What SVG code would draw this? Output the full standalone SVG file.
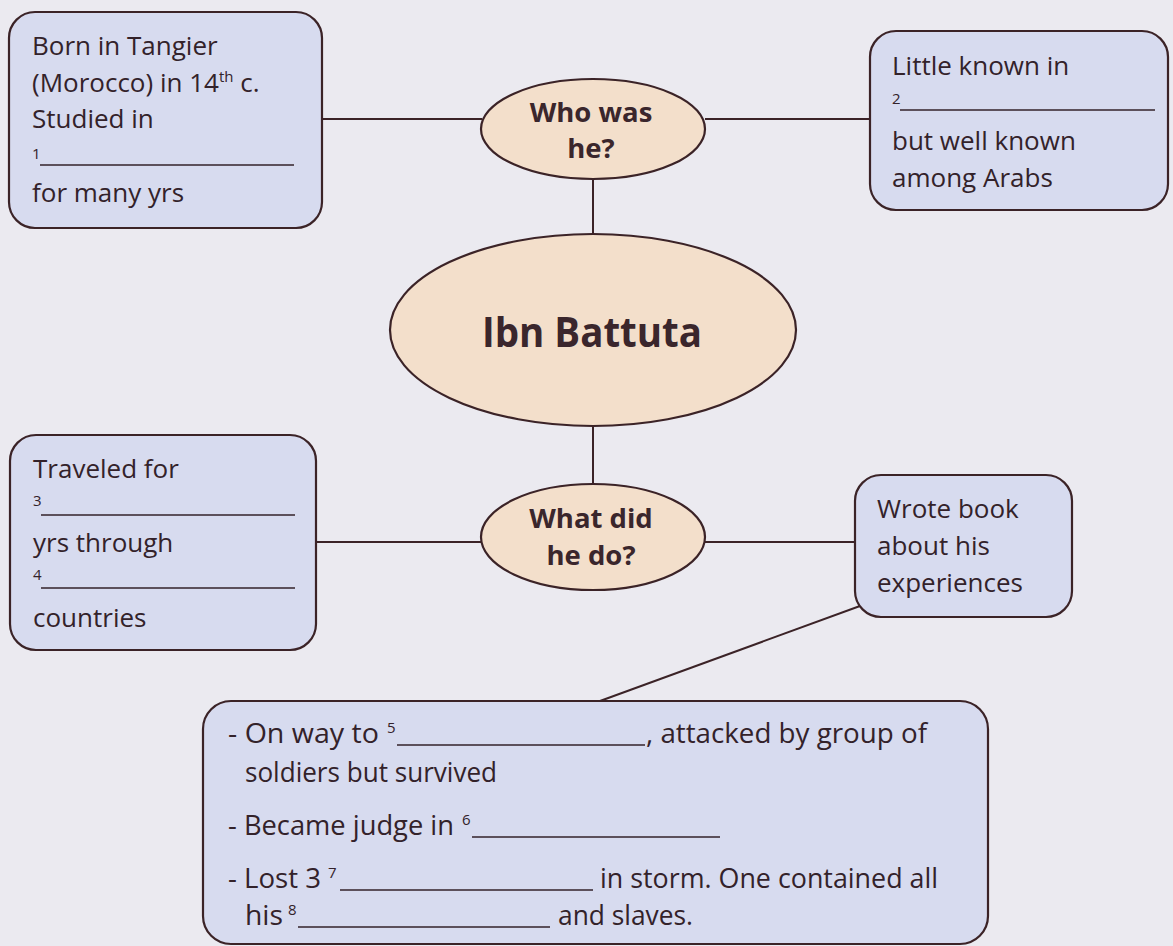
<svg xmlns="http://www.w3.org/2000/svg" width="1173" height="946" viewBox="0 0 1173 946">
<style>
.bg{fill:#ebeaf0}
.box{fill:#d7dbef;stroke:#3b2327;stroke-width:2.2}
.ell{fill:#f3dfcb;stroke:#3b2327;stroke-width:2.2}
.con line{stroke:#3b2327;stroke-width:2}
.t{font-family:"Open Sans","Liberation Sans",sans-serif;font-size:26px;fill:#33222a}
.b{font-family:"Open Sans","Liberation Sans",sans-serif;font-weight:bold;fill:#3a262c}
.s{font-family:"Open Sans","Liberation Sans",sans-serif;font-size:15px;fill:#33222a}
.bt{font-family:"Open Sans","Liberation Sans",sans-serif;font-size:27px;fill:#33222a}
.u{stroke:#33222a;stroke-width:1.7}
</style>
<rect class="bg" x="0" y="0" width="1173" height="946"/>
<g id="connectors" class="con">
<line x1="321" y1="119" x2="482" y2="119"/>
<line x1="705" y1="119" x2="870" y2="119"/>
<line x1="593" y1="180" x2="593" y2="234"/>
<line x1="593" y1="427" x2="593" y2="483"/>
<line x1="316" y1="542" x2="482" y2="542"/>
<line x1="705" y1="542" x2="855" y2="542"/>
<line x1="860" y1="606" x2="600" y2="701"/>
</g>
<g id="who">
<ellipse class="ell" cx="593" cy="129" rx="112" ry="50"/>
<text class="b" font-size="27.5" x="591" y="122" text-anchor="middle">Who was</text>
<text class="b" font-size="27.5" x="591" y="158" text-anchor="middle">he?</text>
</g>
<g id="center">
<ellipse class="ell" cx="593" cy="330" rx="203" ry="96"/>
<text class="b" font-size="42" x="482" y="347" textLength="220" lengthAdjust="spacingAndGlyphs">Ibn Battuta</text>
</g>
<g id="what">
<ellipse class="ell" cx="593" cy="537" rx="112" ry="53"/>
<text class="b" font-size="27.5" x="591" y="528" text-anchor="middle">What did</text>
<text class="b" font-size="27.5" x="591" y="565" text-anchor="middle">he do?</text>
</g>
<g id="born">
<rect class="box" x="9" y="12" width="313" height="216" rx="26"/>
<text class="t" x="32" y="55">Born in Tangier</text>
<text class="t" x="32" y="92">(Morocco) in 14<tspan dy="-10" font-size="15">th</tspan><tspan dy="10"> c.</tspan></text>
<text class="t" x="32" y="128">Studied in</text>
<text class="s" x="32" y="159">1</text>
<line class="u" x1="40" y1="165" x2="294" y2="165"/>
<text class="t" x="32" y="202">for many yrs</text>
</g>
<g id="little">
<rect class="box" x="870" y="31" width="298" height="179" rx="26"/>
<text class="t" x="892" y="75">Little known in</text>
<text class="s" x="892" y="104">2</text>
<line class="u" x1="900" y1="110" x2="1155" y2="110"/>
<text class="t" x="892" y="150">but well known</text>
<text class="t" x="892" y="187">among Arabs</text>
</g>
<g id="traveled">
<rect class="box" x="10" y="435" width="306" height="215" rx="26"/>
<text class="t" x="33" y="478">Traveled for</text>
<text class="s" x="33" y="506">3</text>
<line class="u" x1="41" y1="515" x2="295" y2="515"/>
<text class="t" x="33" y="552">yrs through</text>
<text class="s" x="33" y="580">4</text>
<line class="u" x1="41" y1="588" x2="295" y2="588"/>
<text class="t" x="33" y="627">countries</text>
</g>
<g id="wrote">
<rect class="box" x="855" y="475" width="217" height="142" rx="26"/>
<text class="t" x="877" y="518">Wrote book</text>
<text class="t" x="877" y="555">about his</text>
<text class="t" x="877" y="592">experiences</text>
</g>
<g id="events">
<rect class="box" x="203" y="701" width="785" height="243" rx="28"/>
<text class="bt" x="228" y="743" textLength="151" lengthAdjust="spacingAndGlyphs">- On way to</text>
<text class="s" x="387" y="733">5</text>
<line class="u" x1="397" y1="745" x2="645" y2="745"/>
<text class="bt" x="646" y="743" textLength="281" lengthAdjust="spacingAndGlyphs">, attacked by group of</text>
<text class="bt" x="245" y="782" textLength="252" lengthAdjust="spacingAndGlyphs">soldiers but survived</text>
<text class="bt" x="228" y="835" textLength="226" lengthAdjust="spacingAndGlyphs">- Became judge in</text>
<text class="s" x="462" y="825">6</text>
<line class="u" x1="472" y1="837" x2="720" y2="837"/>
<text class="bt" x="228" y="888" textLength="93" lengthAdjust="spacingAndGlyphs">- Lost 3</text>
<text class="s" x="328" y="878">7</text>
<line class="u" x1="340" y1="890" x2="593" y2="890"/>
<text class="bt" x="600" y="888" textLength="338" lengthAdjust="spacingAndGlyphs">in storm. One contained all</text>
<text class="bt" x="245" y="925" textLength="38" lengthAdjust="spacingAndGlyphs">his</text>
<text class="s" x="288" y="915">8</text>
<line class="u" x1="298" y1="927" x2="550" y2="927"/>
<text class="bt" x="558" y="925" textLength="135" lengthAdjust="spacingAndGlyphs">and slaves.</text>
</g>
</svg>
